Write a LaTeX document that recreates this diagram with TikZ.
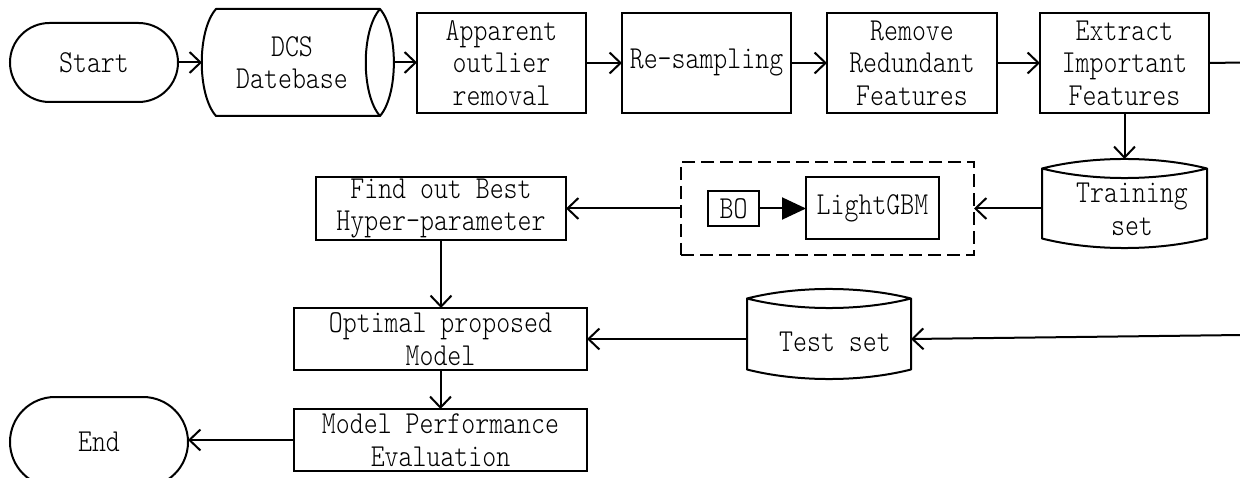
\documentclass[tikz,border=0pt]{standalone}
\usepackage{fontspec}
\newfontfamily\dgfont[FakeStretch=0.83]{lmmonolt10-regular.otf}
\usetikzlibrary{arrows.meta,calc}

% drum (storage) outline drawn around an empty node of full height
\newcommand\drum[1]{%
  \draw[shp] ([yshift=-9.5pt]#1.north west)
    .. controls +(50,-12.7) and +(-50,-12.7) .. ([yshift=-9.5pt]#1.north east)
    .. controls +(-50,12.7) and +(50,12.7) .. ([yshift=-9.5pt]#1.north west)
    -- ([yshift=9.5pt]#1.south west)
    .. controls +(50,12.7) and +(-50,12.7) .. ([yshift=9.5pt]#1.south east)
    -- ([yshift=-9.5pt]#1.north east);}

\begin{document}
\begin{tikzpicture}[x=1pt,y=-1pt,
  every node/.style={font=\dgfont\fontsize{32}{32.5}\selectfont,
    inner sep=0pt, outer sep=0pt, align=center},
  shp/.style={line width=2pt, line join=round},
  box/.style={draw, line width=2pt},
  term/.style={draw, line width=2pt},
  ln/.style={line width=2pt},
  conn/.style={line width=2pt, -{Straight Barb[length=11pt,width=21pt]}},
  solidtip/.style={line width=2pt, -{Triangle[length=24pt,width=22pt]}},
  grpbox/.style={draw, line width=2pt, dash pattern=on 13pt off 6pt}]

\useasboundingbox (0,0) rectangle (1240,478);
\clip (0,0) rectangle (1240,478);

% top row
\node[term, minimum width=168pt, minimum height=79pt, rounded corners=39.5pt] (start) at (94,62.5) {Start};

\node[minimum width=191pt, minimum height=107pt] (dcs) at (297.5,62.5) {};
\begin{scope}[shift={(dcs.center)}]
  \draw[shp] (-81.5,-53.5) -- (82.5,-53.5)
    .. controls (101,-32) and (101,32) .. (82.5,53.5)
    -- (-81.5,53.5)
    .. controls (-100.5,32) and (-100.5,-32) .. cycle;
  \draw[shp] (82.5,-53.5) .. controls (63.5,-32) and (63.5,32) .. (82.5,53.5);
\end{scope}
\node (dcslbl) at ([xshift=-5.5pt]dcs.center) {DCS\\Datebase};

\node[box, minimum width=169pt, minimum height=100pt] (app) at (501.5,63) {Apparent\\outlier\\removal};
\node[box, minimum width=169pt, minimum height=100pt] (res) at (706.5,63) {Re-sampling};
\node[box, minimum width=170pt, minimum height=100pt] (rem) at (912,63) {Remove\\Redundant\\Features};
\node[box, minimum width=169pt, minimum height=100pt] (ext) at (1124.5,63) {Extract\\Important\\Features};
\coordinate (exitR) at (1242,62.5);

\draw[conn] (start.east) -- (dcs.west);
\draw[conn] (dcs.east) -- (dcs.east -| app.west);
\draw[conn] (app.east) -- (res.west);
\draw[conn] (res.east) -- (rem.west);
\draw[conn] (rem.east) -- (ext.west);
\draw[ln] (ext.east) -- (exitR);

% training branch
\node[minimum width=165pt, minimum height=89pt] (train) at (1124.5,203.5) {};
\drum{train}
\node (trainlbl) at ([xshift=7.5pt,yshift=-6pt]train.center) {Training\\set};
\draw[conn] (ext.south) -- (train.north);

\node[grpbox, minimum width=293pt, minimum height=93pt] (grp) at (827.5,208.5) {};
\node[box, minimum width=51pt, minimum height=35pt] (bo) at (733.5,208.5) {BO};
\node[box, minimum width=133pt, minimum height=62pt] (lgb) at (872.5,208) {LightGBM};
\draw[solidtip] (bo.east) -- (bo.east -| lgb.west);
\draw[conn] (train.west |- grp.east) -- (grp.east);

\node[box, minimum width=250pt, minimum height=63pt] (find) at (441,208.5) {Find out Best\\Hyper-parameter};
\draw[conn] (grp.west) -- (find.east);

% model evaluation
\node[box, minimum width=293pt, minimum height=62pt] (opt) at (440.5,339) {Optimal proposed\\Model};
\node[box, minimum width=293pt, minimum height=62pt] (mp) at (440.5,440) {Model Performance\\Evaluation};
\node[term, minimum width=178pt, minimum height=90pt, rounded corners=45pt] (end) at (99,442) {End};

\draw[conn] (find.south) -- (find.south |- opt.north);
\draw[conn] (opt.south) -- (opt.south |- mp.north);
\draw[conn] (mp.west) -- (end.east |- mp.west);

\node[minimum width=164pt, minimum height=90pt] (test) at (829,334) {};
\drum{test}
\node (testlbl) at ([xshift=6pt,yshift=-8pt]test.center) {Test set};
\coordinate (inR) at (1242,335);
\draw[conn] (inR) -- ([yshift=-5pt]test.east);
\draw[conn] (test.west |- opt.east) -- (opt.east);
\end{tikzpicture}
\end{document}
